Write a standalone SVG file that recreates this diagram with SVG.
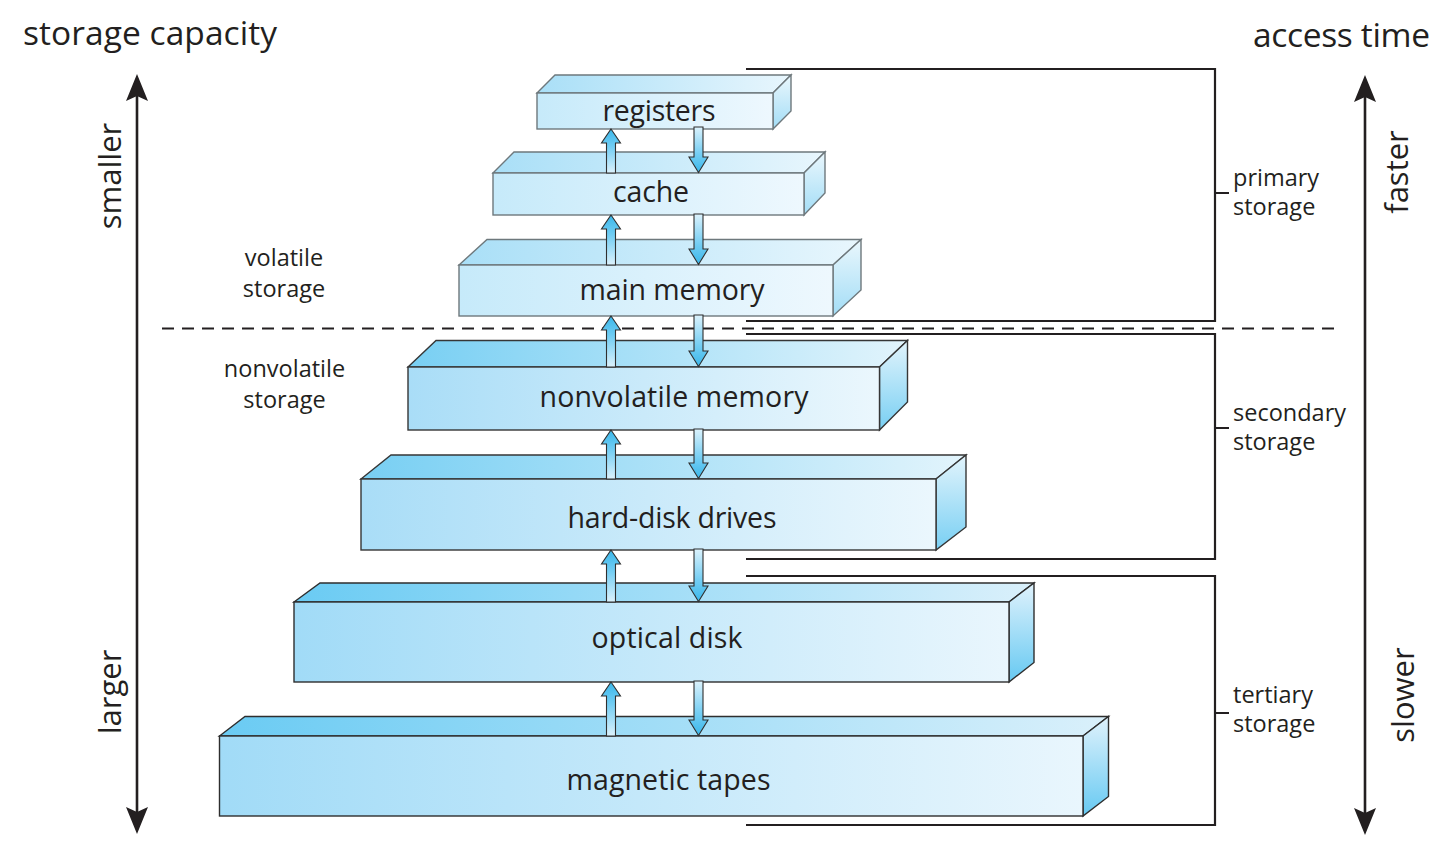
<svg xmlns="http://www.w3.org/2000/svg" width="1446" height="862" viewBox="0 0 1446 862">
<defs>
<linearGradient id="paleFront" x1="0" y1="0" x2="1" y2="0"><stop offset="0" stop-color="#c6eafa"/><stop offset="1" stop-color="#eef8fe"/></linearGradient>
<linearGradient id="paleTop" x1="0" y1="0" x2="1" y2="0"><stop offset="0" stop-color="#a9dff7"/><stop offset="1" stop-color="#e8f6fd"/></linearGradient>
<linearGradient id="paleSide" x1="0" y1="0" x2="0" y2="1"><stop offset="0" stop-color="#eaf7fd"/><stop offset="1" stop-color="#a3ddf6"/></linearGradient>
<linearGradient id="midFront" x1="0" y1="0" x2="1" y2="0"><stop offset="0" stop-color="#a9ddf7"/><stop offset="1" stop-color="#ebf7fd"/></linearGradient>
<linearGradient id="midTop" x1="0" y1="0" x2="1" y2="0"><stop offset="0" stop-color="#78cff3"/><stop offset="1" stop-color="#e2f4fc"/></linearGradient>
<linearGradient id="midSide" x1="0" y1="0" x2="0" y2="1"><stop offset="0" stop-color="#e2f4fc"/><stop offset="1" stop-color="#78cff3"/></linearGradient>
<linearGradient id="deepFront" x1="0" y1="0" x2="1" y2="0"><stop offset="0" stop-color="#a1dbf7"/><stop offset="1" stop-color="#e9f6fd"/></linearGradient>
<linearGradient id="deepTop" x1="0" y1="0" x2="1" y2="0"><stop offset="0" stop-color="#6acbf3"/><stop offset="1" stop-color="#daf0fb"/></linearGradient>
<linearGradient id="deepSide" x1="0" y1="0" x2="0" y2="1"><stop offset="0" stop-color="#e0f2fc"/><stop offset="1" stop-color="#66c9f2"/></linearGradient>
<linearGradient id="upGrad" x1="0" y1="0" x2="0" y2="1"><stop offset="0" stop-color="#3ab7ea"/><stop offset="0.4" stop-color="#72cdf3"/><stop offset="1" stop-color="#dcf2fc"/></linearGradient>
<linearGradient id="downGrad" x1="0" y1="0" x2="0" y2="1"><stop offset="0" stop-color="#dcf2fc"/><stop offset="0.6" stop-color="#72cdf3"/><stop offset="1" stop-color="#3ab7ea"/></linearGradient>
<style>
text{font-family:"Open Sans","Noto Sans","Liberation Sans",sans-serif;fill:#231f20}
.lbl{font-size:28.5px;text-anchor:middle}
.side{font-size:23.5px}
.mid{text-anchor:middle}
.axis{font-size:33.5px}
.rot{font-size:31px;text-anchor:middle}
.pale .f{fill:url(#paleFront)} .pale .t{fill:url(#paleTop)} .pale .s{fill:url(#paleSide)}
.pale polygon,.pale rect{stroke:#6e787c;stroke-width:1.4;stroke-linejoin:miter}
.midb .f{fill:url(#midFront)} .midb .t{fill:url(#midTop)} .midb .s{fill:url(#midSide)}
.midb polygon,.midb rect{stroke:#363636;stroke-width:1.4}
.deep .f{fill:url(#deepFront)} .deep .t{fill:url(#deepTop)} .deep .s{fill:url(#deepSide)}
.deep polygon,.deep rect{stroke:#2e2e2e;stroke-width:1.4}
.up{fill:url(#upGrad);stroke:#2f2f2f;stroke-width:1.1}
.down{fill:url(#downGrad);stroke:#2f2f2f;stroke-width:1.1}
.br{fill:none;stroke:#231f20;stroke-width:2.2}
.dash{stroke:#231f20;stroke-width:2;stroke-dasharray:12 8;fill:none}
.ax{stroke:#231f20;stroke-width:2.6;fill:none}
.head{fill:#231f20}
</style>
</defs>
<rect width="1446" height="862" fill="#ffffff"/>

<g id="titles">
<text class="axis" x="23" y="45" textLength="254">storage capacity</text>
<text class="axis" x="1253" y="47" textLength="177">access time</text>
<text class="rot" transform="translate(121,176) rotate(-90)">smaller</text>
<text class="rot" transform="translate(121,692) rotate(-90)">larger</text>
<text class="rot" transform="translate(1408,172) rotate(-90)">faster</text>
<text class="rot" transform="translate(1414,695) rotate(-90)">slower</text>
</g>

<g id="axis-left">
<line class="ax" x1="137" y1="96" x2="137" y2="812"/>
<path class="head" d="M137,74 L148,101 L137,96 L126,101 Z"/>
<path class="head" d="M137,834 L148,807 L137,812 L126,807 Z"/>
</g>
<g id="axis-right">
<line class="ax" x1="1365" y1="97" x2="1365" y2="813"/>
<path class="head" d="M1365,75 L1376,102 L1365,97 L1354,102 Z"/>
<path class="head" d="M1365,835 L1376,808 L1365,813 L1354,808 Z"/>
</g>

<g id="volatility-labels">
<text class="side mid" x="284" y="265.5">volatile</text>
<text class="side mid" x="284" y="297">storage</text>
<text class="side mid" x="284.5" y="377">nonvolatile</text>
<text class="side mid" x="284.5" y="407.5">storage</text>
<line class="dash" x1="162" y1="328.5" x2="1340" y2="328.5"/>
</g>

<g id="primary-storage">
<path class="br" d="M746,69 H1215 V321 H746 M1215,193 H1229"/>
<text class="side" x="1233" y="186">primary</text>
<text class="side" x="1233" y="215">storage</text>
</g>
<g id="secondary-storage">
<path class="br" d="M746,334 H1215 V559 H746 M1215,428 H1229"/>
<text class="side" x="1233" y="421">secondary</text>
<text class="side" x="1233" y="450">storage</text>
</g>
<g id="tertiary-storage">
<path class="br" d="M746,576 H1215 V825 H746 M1215,713 H1229"/>
<text class="side" x="1233" y="703">tertiary</text>
<text class="side" x="1233" y="732">storage</text>
</g>

<g id="registers" class="pale">
<polygon class="t" points="537,93 555,75 791,75 773,93"/>
<polygon class="s" points="773,93 791,75 791,111 773,129"/>
<rect class="f" x="537" y="93" width="236" height="36"/>
<text class="lbl" x="659" y="121" textLength="113">registers</text>
</g>
<g id="cache" class="pale">
<polygon class="t" points="493,173 514,152 825,152 804,173"/>
<polygon class="s" points="804,173 825,152 825,193 804,215"/>
<rect class="f" x="493" y="173" width="311" height="42"/>
<text class="lbl" x="651" y="201.5" textLength="76">cache</text>
</g>
<g id="main-memory" class="pale">
<polygon class="t" points="459,265 487,239.5 861,239.5 833,265"/>
<polygon class="s" points="833,265 861,239.5 861,290 833,316"/>
<rect class="f" x="459" y="265" width="374" height="51"/>
<text class="lbl" x="672" y="300" textLength="185">main memory</text>
</g>
<g id="nonvolatile-memory" class="midb">
<polygon class="t" points="408,367 436,340.5 907.5,340.5 879.5,367"/>
<polygon class="s" points="879.5,367 907.5,340.5 907.5,402 879.5,430"/>
<rect class="f" x="408" y="367" width="471.5" height="63"/>
<text class="lbl" x="674" y="407" textLength="269">nonvolatile memory</text>
</g>
<g id="hard-disk-drives" class="midb">
<polygon class="t" points="361,479 391,455 966,455 936,479"/>
<polygon class="s" points="936,479 966,455 966,527 936,550"/>
<rect class="f" x="361" y="479" width="575" height="71"/>
<text class="lbl" x="672" y="527.5" textLength="209">hard-disk drives</text>
</g>
<g id="optical-disk" class="deep">
<polygon class="t" points="294,602 320,583 1034,583 1009,602"/>
<polygon class="s" points="1009,602 1034,583 1034,662.5 1009,682"/>
<rect class="f" x="294" y="602" width="715" height="80"/>
<text class="lbl" x="667" y="647.5" textLength="151">optical disk</text>
</g>
<g id="magnetic-tapes" class="deep">
<polygon class="t" points="219.5,736 245,716.5 1108.5,716.5 1083,736"/>
<polygon class="s" points="1083,736 1108.5,716.5 1108.5,796.5 1083,816"/>
<rect class="f" x="219.5" y="736" width="863.5" height="80"/>
<text class="lbl" x="668.5" y="790" textLength="204">magnetic tapes</text>
</g>

<g id="connectors">
<path class="up" d="M611,129 L620.5,143 L615.5,143 L615.5,173 L606.5,173 L606.5,143 L601.5,143 Z"/>
<path class="down" d="M694,127 L703,127 L703,157 L708,157 L698.5,172.5 L689,157 L694,157 Z"/>
<path class="up" d="M611,215 L620.5,229 L615.5,229 L615.5,265 L606.5,265 L606.5,229 L601.5,229 Z"/>
<path class="down" d="M694,214 L703,214 L703,249 L708,249 L698.5,264.5 L689,249 L694,249 Z"/>
<path class="up" d="M611,316 L620.5,330 L615.5,330 L615.5,367 L606.5,367 L606.5,330 L601.5,330 Z"/>
<path class="down" d="M694,315 L703,315 L703,351 L708,351 L698.5,366.5 L689,351 L694,351 Z"/>
<path class="up" d="M611,430 L620.5,444 L615.5,444 L615.5,479 L606.5,479 L606.5,444 L601.5,444 Z"/>
<path class="down" d="M694,429 L703,429 L703,463 L708,463 L698.5,478.5 L689,463 L694,463 Z"/>
<path class="up" d="M611,550 L620.5,564 L615.5,564 L615.5,602 L606.5,602 L606.5,564 L601.5,564 Z"/>
<path class="down" d="M694,549 L703,549 L703,586 L708,586 L698.5,601.5 L689,586 L694,586 Z"/>
<path class="up" d="M611,682 L620.5,696 L615.5,696 L615.5,736 L606.5,736 L606.5,696 L601.5,696 Z"/>
<path class="down" d="M694,681 L703,681 L703,720 L708,720 L698.5,735.5 L689,720 L694,720 Z"/>
</g>
</svg>
